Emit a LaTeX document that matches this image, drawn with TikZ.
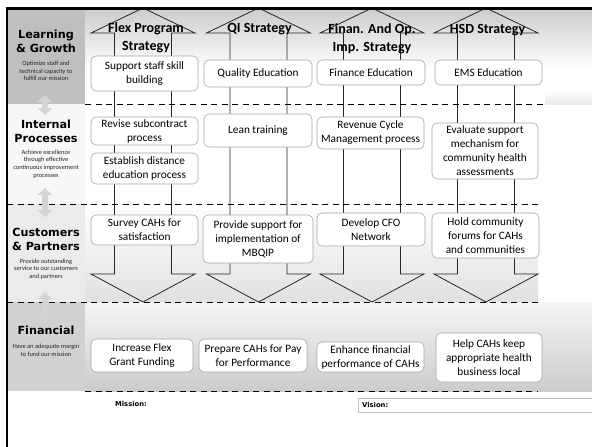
\documentclass[tikz,border=0pt]{standalone}
\usepackage{fontspec}
\setmainfont{Carlito}
\newfontfamily\verd{DejaVu Sans}
\begin{document}
\begin{tikzpicture}[x=1pt,y=-1pt,
  box/.style={draw=black!35, line width=0.6pt, fill=white, rounded corners=5pt,
    align=center, inner sep=0pt, font=\fontsize{11.3}{14}\selectfont},
  coltitle/.style={align=center, inner sep=0pt, font=\fontsize{14}{18}\selectfont\bfseries},
  lefttitle/.style={align=center, inner sep=0pt, font=\verd\bfseries\fontsize{11.2}{13.8}\selectfont},
  leftsub/.style={align=center, inner sep=0pt, text=black!85, font=\fontsize{6.4}{7.7}\selectfont},
  bigarrow/.style={draw=black!85, line width=0.8pt},
  sep/.style={draw=black, line width=0.95pt, dash pattern=on 6pt off 4.5pt},
  lefttarrow/.style={fill=black!17},
  frameline/.style={draw=black, line width=2.4pt}]
\useasboundingbox (0,0) rectangle (592,447);
\fill[white] (0,0) rectangle (592,447);
% left panels
\fill[black!25] (7,8) rectangle (85,104);
\fill[black!3] (7,104) rectangle (85,204);
\fill[black!8] (7,204) rectangle (85,302);
\fill[black!18] (7,302) rectangle (85,391);
% row bands
\shade[top color=black!20, bottom color=white] (85,8) rectangle (592,70);
\shade[top color=white, bottom color=black!8] (545,90) rectangle (592,104);
\shade[top color=white, bottom color=black!12] (85,204) rectangle (538,302);
\shade[top color=black!4, bottom color=black!20] (85,302) rectangle (592,391);
% big arrows
\foreach \c in {143,258.5,372,486} {
  \draw[bigarrow] (\c-28.5,33) -- (\c-52,33) -- (\c,8) -- (\c+52,33) -- (\c+28.5,33)
    -- (\c+28.5,274) -- (\c+52,274) -- (\c,302) -- (\c-52,274) -- (\c-28.5,274) -- cycle;
}
% column titles
\node[coltitle] (t1) at (146,38) {Flex Program\\Strategy};
\node[coltitle] (t2) at (259.5,29.5) {QI Strategy};
\node[coltitle] (t3) at (372,38.5) {Finan. And Op.\\Imp. Strategy};
\node[coltitle] (t4) at (487.5,30) {HSD Strategy};
% boxes row 1
\node[box, minimum width=107pt, minimum height=35pt] (b11) at (144.5,73.5) {Support staff skill\\building};
\node[box, minimum width=108pt, minimum height=27pt] (b12) at (258,73.5) {Quality Education};
\node[box, minimum width=108pt, minimum height=25pt] (b13) at (371,72.5) {Finance Education};
\node[box, minimum width=107pt, minimum height=25pt] (b14) at (488.5,72.5) {EMS Education};
% row 2
\node[box, minimum width=107pt, minimum height=28pt] (b21) at (144.5,131) {Revise subcontract\\process};
\node[box, minimum width=107pt, minimum height=31pt] (b22) at (144.5,168.5) {Establish distance\\education process};
\node[box, minimum width=108pt, minimum height=33pt] (b23) at (258,130.5) {Lean training};
\node[box, minimum width=107pt, minimum height=32pt] (b24) at (370.5,133) {Revenue Cycle\\Management process};
\node[box, minimum width=106pt, minimum height=56pt] (b25) at (485,151) {Evaluate support\\mechanism for\\community health\\assessments};
% row 3
\node[box, minimum width=107pt, minimum height=30pt] (b31) at (144.5,230) {Survey CAHs for\\satisfaction};
\node[box, minimum width=110pt, minimum height=48pt] (b32) at (258,239) {Provide support for\\implementation of\\MBQIP};
\node[box, minimum width=108pt, minimum height=33pt] (b33) at (371,229.5) {Develop CFO\\Network};
\node[box, minimum width=107pt, minimum height=45pt] (b34) at (485.5,235.5) {Hold community\\forums for CAHs\\and communities};
% row 4
\node[box, minimum width=102pt, minimum height=33pt] (b41) at (142,355.5) {Increase Flex\\Grant Funding};
\node[box, minimum width=108pt, minimum height=33pt] (b42) at (253,355.5) {Prepare CAHs for Pay\\for Performance};
\node[box, minimum width=107pt, minimum height=30pt] (b43) at (370.5,357) {Enhance financial\\performance of CAHs};
\node[box, minimum width=106pt, minimum height=49pt] (b44) at (489,357.5) {Help CAHs keep\\appropriate health\\business local};
% dashed separators
\draw[sep] (85,104) -- (545,104);
\draw[sep] (7,204) -- (538,204);
\draw[sep] (7,302) -- (538,302);
\draw[sep] (85,391) -- (538,391);
% left double arrows
\foreach \ya/\yb in {95/115, 188/217, 292/320} {
  \fill[lefttarrow] (45,\ya) -- (52.5,\ya+7) -- (48,\ya+7) -- (48,\yb-7) -- (52.5,\yb-7) -- (45,\yb)
    -- (37.5,\yb-7) -- (42,\yb-7) -- (42,\ya+7) -- (37.5,\ya+7) -- cycle;
}
% left titles
\node[lefttitle] (lg) at (46,41) {Learning\\\& Growth};
\node[leftsub] (lgs) at (46,71) {Optimize staff and\\technical capacity to\\fulfill our mission};
\node[lefttitle] (ip) at (46,131.5) {Internal\\Processes};
\node[leftsub] (ips) at (46,164) {Achieve excellence\\through effective\\continuous improvement\\processes};
\node[lefttitle] (cp) at (46,239.5) {Customers\\\& Partners};
\node[leftsub] (cps) at (46,269) {Provide outstanding\\service to our customers\\and partners};
\node[lefttitle] (fi) at (46,330) {Financial};
\node[leftsub] (fis) at (46,350) {Have an adequate margin\\to fund our mission};
% mission / vision
\node[inner sep=0pt, font=\verd\bfseries\fontsize{6.8}{8}\selectfont] (mis) at (131,404) {Mission:};
\draw[draw=black!25, line width=0.6pt] (358,398) rectangle (600,412);
\node[anchor=west, inner sep=0pt, font=\verd\bfseries\fontsize{6.8}{8}\selectfont] (vis) at (362,405) {Vision:};
% frame
\draw[frameline] (5.8,8.3) -- (592,8.3);
\draw[frameline] (7,7.1) -- (7,447);
\end{tikzpicture}
\end{document}
